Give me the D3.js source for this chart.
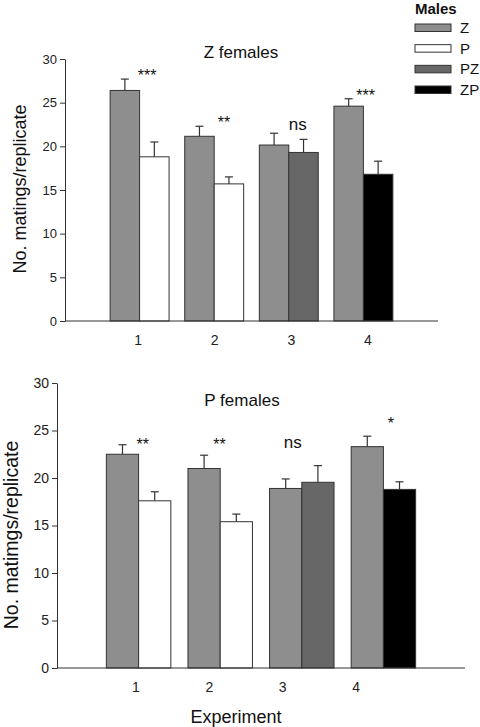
<!DOCTYPE html>
<html>
<head>
<meta charset="utf-8">
<script src="https://cdn.jsdelivr.net/npm/d3@7"></script>
<style>
  body { margin: 0; background: #fff; }
  svg { display: block; font-family: Arial, "Liberation Sans", sans-serif; }
</style>
</head>
<body>
<svg id="chart"></svg>
<script>
// data
const experiments = [1, 2, 3, 4];
const maleTypes = ['Z', 'P', 'PZ', 'ZP'];
const otherMale = ['P', 'P', 'PZ', 'ZP'];
const yTicks = [0, 5, 10, 15, 20, 25, 30];

// Z females
const zFemZMale = [26.4, 21.15, 20.15, 24.6];
const zFemZMaleSE = [1.3, 1.15, 1.35, 0.85];
const zFemOtherMale = [18.8, 15.7, 19.3, 16.8];
const zFemOtherMaleSE = [1.7, 0.8, 1.5, 1.5];
const zFemSig = ['***', '**', 'ns', '***'];
const zFemSigAt = [[1.10, 27.5], [2.13, 22.1], [3.12, 21.9], [4.03, 25.2]];

// P females
const pFemZMale = [22.5, 21.0, 18.9, 23.3];
const pFemZMaleSE = [1.0, 1.4, 1.0, 1.1];
const pFemOtherMale = [17.6, 15.4, 19.55, 18.8];
const pFemOtherMaleSE = [0.95, 0.8, 1.75, 0.8];
const pFemSig = ['**', '**', 'ns', '*'];
const pFemSigAt = [[1.05, 23.0], [1.99, 23.0], [2.89, 23.2], [4.09, 25.2]];

const width = 480;
const height = 727;
const color = { Z: '#8e8e8e', P: '#ffffff', PZ: '#676767', ZP: '#000000' };
const ink = '#333';

const svg = d3.select('#chart')
  .attr('width', width)
  .attr('height', height);

function drawPanel(opt) {
  const x = d3.scaleLinear().domain([0, 5]).range([opt.left, opt.right]);
  const y = d3.scaleLinear().domain([0, 30]).range([opt.bottom, opt.top]);
  const step = x(1) - x(0);
  const barW = step * 0.395;

  const rows = experiments.map((e, i) => [
    { exp: e, male: 'Z', v: opt.zMale[i], se: opt.zMaleSE[i], x0: x(e) - barW },
    { exp: e, male: otherMale[i], v: opt.other[i], se: opt.otherSE[i], x0: x(e) }
  ]).flat();

  const g = svg.append('g');

  // bars
  g.selectAll('rect.bar')
    .data(rows)
    .enter()
    .append('rect')
    .attr('class', 'bar')
    .attr('x', d => d.x0)
    .attr('y', d => y(d.v))
    .attr('width', barW)
    .attr('height', d => y(0) - y(d.v))
    .attr('fill', d => color[d.male])
    .attr('stroke', ink)
    .attr('stroke-width', 1);

  // error bars (upper only)
  const err = g.selectAll('g.err')
    .data(rows)
    .enter()
    .append('g')
    .attr('class', 'err')
    .attr('stroke', ink)
    .attr('stroke-width', 1.2);
  err.append('line')
    .attr('x1', d => d.x0 + barW / 2)
    .attr('x2', d => d.x0 + barW / 2)
    .attr('y1', d => y(d.v))
    .attr('y2', d => y(d.v + d.se));
  err.append('line')
    .attr('x1', d => d.x0 + barW / 2 - 4)
    .attr('x2', d => d.x0 + barW / 2 + 4)
    .attr('y1', d => y(d.v + d.se))
    .attr('y2', d => y(d.v + d.se));

  // y axis
  const yAxis = g.append('g')
    .attr('transform', `translate(${opt.left},0)`)
    .call(d3.axisLeft(y).tickValues(yTicks).tickSize(5).tickPadding(3).tickSizeOuter(0));
  yAxis.selectAll('text').attr('font-size', opt.tickFont).attr('fill', '#222');
  yAxis.selectAll('line, path').attr('stroke', ink);

  // x axis
  const xLab = d3.scaleLinear().domain([0, 5]).range(opt.labelRange);
  g.append('line')
    .attr('x1', x(0)).attr('x2', x(5))
    .attr('y1', y(0)).attr('y2', y(0))
    .attr('stroke', ink);
  const xAxis = g.append('g')
    .attr('transform', `translate(0,${y(0)})`)
    .call(d3.axisBottom(xLab).tickValues(experiments).tickFormat(d3.format('d')).tickSize(0).tickPadding(opt.xPad));
  xAxis.select('.domain').remove();
  xAxis.selectAll('text').attr('font-size', 14).attr('fill', '#222');

  // significance labels
  g.selectAll('text.sig')
    .data(opt.sig)
    .enter()
    .append('text')
    .attr('class', 'sig')
    .attr('x', (d, i) => x(opt.sigAt[i][0]))
    .attr('y', (d, i) => y(opt.sigAt[i][1]))
    .attr('text-anchor', 'middle')
    .attr('font-size', d => d === 'ns' ? 17 : 16)
    .attr('fill', '#111')
    .text(d => d);

  // title
  g.append('text')
    .attr('x', opt.titleX)
    .attr('y', opt.titleY)
    .attr('text-anchor', 'middle')
    .attr('font-size', 17)
    .attr('fill', '#111')
    .text(opt.title);

  // y label
  g.append('text')
    .attr('transform', `translate(${opt.yLabX},${opt.yLabY}) rotate(-90)`)
    .attr('text-anchor', 'middle')
    .attr('font-size', opt.yLabFont)
    .attr('fill', '#111')
    .text(opt.yLabel);
}

drawPanel({
  left: 65, right: 438, top: 59, bottom: 321,
  zMale: zFemZMale, zMaleSE: zFemZMaleSE,
  other: zFemOtherMale, otherSE: zFemOtherMaleSE,
  sig: zFemSig, sigAt: zFemSigAt,
  labelRange: [61, 444], xPad: 14, tickFont: 13,
  title: 'Z females', titleX: 241, titleY: 58,
  yLabel: 'No. matings/replicate', yLabX: 26, yLabY: 189, yLabFont: 18
});

drawPanel({
  left: 57, right: 465, top: 383, bottom: 668,
  zMale: pFemZMale, zMaleSE: pFemZMaleSE,
  other: pFemOtherMale, otherSE: pFemOtherMaleSE,
  sig: pFemSig, sigAt: pFemSigAt,
  labelRange: [62, 429], xPad: 14, tickFont: 14,
  title: 'P females', titleX: 242, titleY: 406,
  yLabel: 'No. matimgs/replicate', yLabX: 18, yLabY: 535, yLabFont: 19.5
});

// x title
svg.append('text')
  .attr('x', 236)
  .attr('y', 723)
  .attr('text-anchor', 'middle')
  .attr('font-size', 18)
  .attr('fill', '#111')
  .text('Experiment');

// legend
const legY = d3.scalePoint().domain(maleTypes).range([24, 86]);
const legend = svg.append('g');
legend.append('text')
  .attr('x', 415)
  .attr('y', 14)
  .attr('font-size', 15)
  .attr('font-weight', 'bold')
  .attr('fill', '#111')
  .text('Males');
const items = legend.selectAll('g.item')
  .data(maleTypes)
  .enter()
  .append('g')
  .attr('class', 'item')
  .attr('transform', d => `translate(415,${legY(d)})`);
items.append('rect')
  .attr('width', 36)
  .attr('height', 7.5)
  .attr('fill', d => color[d])
  .attr('stroke', ink);
items.append('text')
  .attr('x', 45)
  .attr('y', 9)
  .attr('font-size', 15)
  .attr('fill', '#111')
  .text(d => d);
</script>
</body>
</html>
